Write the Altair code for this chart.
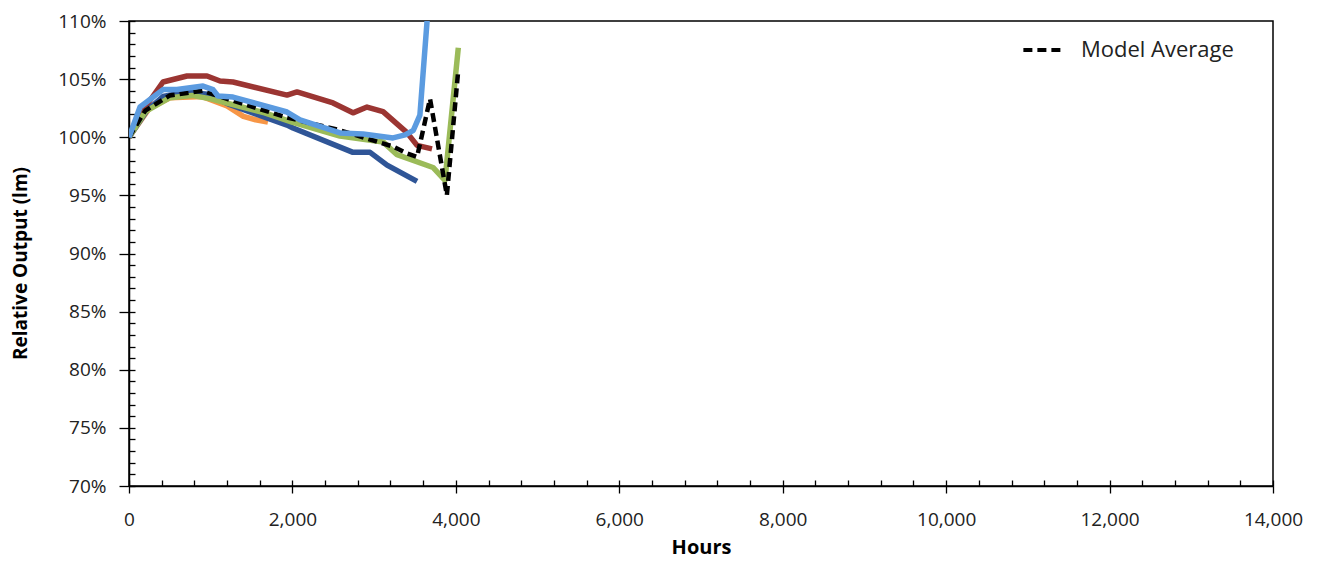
import altair as alt
import pandas as pd

# ---- data ----
orange_h = [0, 250, 500, 900, 1200, 1400, 1550, 1700]
orange_v = [100, 102.5, 103.4, 103.5, 102.7, 101.8, 101.5, 101.3]

red_h = [0, 200, 416, 710, 955, 1114, 1273, 1934, 2056, 2497, 2741, 2913, 3109, 3402, 3525, 3708]
red_v = [100, 102.6, 104.75, 105.27, 105.27, 104.84, 104.75, 103.63, 103.9, 102.95, 102.1, 102.6, 102.2, 100.4, 99.3, 99.0]

navy_h = [0, 220, 416, 710, 955, 1236, 1934, 2007, 2741, 2950, 3158, 3525]
navy_v = [100, 102.3, 103.5, 103.9, 103.7, 102.8, 101.05, 100.8, 98.7, 98.7, 97.6, 96.2]

green_h = [0, 200, 500, 770, 1000, 1660, 1995, 2582, 3109, 3280, 3720, 3867, 4030]
green_v = [100, 102.2, 103.4, 103.6, 103.3, 102.1, 101.3, 100.1, 99.6, 98.5, 97.4, 96.3, 107.7]

avg_h = [0, 200, 500, 900, 1200, 1934, 2582, 3231, 3402, 3525, 3684, 3890, 4030]
avg_v = [100, 102.3, 103.6, 104.0, 103.3, 101.7, 100.6, 99.2, 98.6, 98.3, 103.3, 95.0, 105.8]

lblue_h = [0, 135, 416, 587, 906, 1028, 1089, 1273, 1934, 2093, 2582, 2864, 3231, 3380, 3480, 3560, 3650]
lblue_v = [100, 102.6, 104.1, 104.1, 104.4, 104.1, 103.55, 103.46, 102.17, 101.5, 100.37, 100.28, 99.94, 100.2, 100.6, 101.9, 110.2]

series = [
    ("Orange", orange_h, orange_v, "#F79646"),
    ("Red", red_h, red_v, "#9B3532"),
    ("Navy", navy_h, navy_v, "#2F5597"),
    ("Green", green_h, green_v, "#9BBB59"),
    ("Light Blue", lblue_h, lblue_v, "#5B9BE0"),
]

x_major = [0, 2000, 4000, 6000, 8000, 10000, 12000, 14000]
x_minor = list(range(0, 14001, 400))
y_major = [0.70, 0.75, 0.80, 0.85, 0.90, 0.95, 1.00, 1.05, 1.10]
y_minor = [v / 100 for v in range(70, 111)]

FONT = "Open Sans"

xscale = alt.Scale(domain=[0, 14000], nice=False, zero=False)
yscale = alt.Scale(domain=[0.70, 1.10], nice=False, zero=False)


def frame(name, h, v):
    return pd.DataFrame({"hours": h, "value": [x / 100 for x in v], "series": name})


layers = []
first = True
for name, h, v, col in series:
    df = frame(name, h, v)
    if first:
        xenc = alt.X("hours:Q", scale=xscale, axis=alt.Axis(
            values=x_major, format=",.0f", title="Hours", tickSize=7, labelPadding=17,
            labelFlush=False, labelOverlap=False,
            labelFont=FONT, labelFontSize=19, labelColor="#222",
            titleFont=FONT, titleFontWeight="bold", titleFontSize=20, titleColor="black",
            titleY=61, titleBaseline="middle", grid=False,
            domainColor="black", domainWidth=1.5, tickColor="black", tickWidth=1.3))
        yenc = alt.Y("value:Q", scale=yscale, axis=alt.Axis(
            values=y_major, format=".0%", title="Relative Output (lm)", tickSize=10,
            labelPadding=13, labelFlush=False, labelOverlap=False,
            labelFont=FONT, labelFontSize=19, labelColor="#222",
            titleFont=FONT, titleFontWeight="bold", titleFontSize=19, titleColor="black",
            titleX=-109, titleY=242, titleBaseline="middle", titleAlign="center", grid=False,
            domainColor="black", domainWidth=1.5, tickColor="black", tickWidth=1.3))
        first = False
    else:
        xenc = alt.X("hours:Q", scale=xscale, axis=None)
        yenc = alt.Y("value:Q", scale=yscale, axis=None)
    layers.append(
        alt.Chart(df).mark_line(color=col, strokeWidth=5.5, clip=True, strokeJoin="round")
        .encode(x=xenc, y=yenc)
    )

# model average (dashed, with legend)
avg_df = frame("Model Average", avg_h, avg_v)
avg_layer = alt.Chart(avg_df).mark_line(color="black", strokeWidth=4.5, clip=True).encode(
    x=alt.X("hours:Q", scale=xscale, axis=None),
    y=alt.Y("value:Q", scale=yscale, axis=None),
    strokeDash=alt.StrokeDash("series:N", scale=alt.Scale(domain=["Model Average"], range=[[9, 5]]),
                              legend=alt.Legend(title=None, orient="none", legendX=892, legendY=6,
                                                symbolType="stroke", symbolStrokeColor="black",
                                                symbolStrokeWidth=4, symbolSize=1700,
                                                labelFontSize=22, labelFont=FONT, labelColor="#222",
                                                labelOffset=14, padding=0)),
)
# insert the average before the light blue line
layers.insert(4, avg_layer)

# minor (inside) tick axes
minor_layer = alt.Chart(frame("m", navy_h, navy_v)).mark_line(opacity=0).encode(
    x=alt.X("hours:Q", scale=xscale, axis=alt.Axis(
        values=x_minor, orient="bottom", offset=-6, tickSize=6, labels=False, domain=False,
        grid=False, title=None, tickColor="black", tickWidth=1.3)),
    y=alt.Y("value:Q", scale=yscale, axis=alt.Axis(
        values=y_minor, orient="left", offset=-6, tickSize=6, labels=False, domain=False,
        grid=False, title=None, tickColor="black", tickWidth=1.3)),
)

chart = alt.layer(*layers, minor_layer).resolve_axis(x="independent", y="independent").properties(
    width=1144, height=465,
    background="white",
    autosize=alt.AutoSizeParams(type="none"),
    padding={"left": 121, "top": 13, "right": 40, "bottom": 80},
).configure_view(stroke="black", strokeWidth=1.5).configure_axis(grid=False)

chart.save("out.html", embed_options={"renderer": "svg", "actions": False})
